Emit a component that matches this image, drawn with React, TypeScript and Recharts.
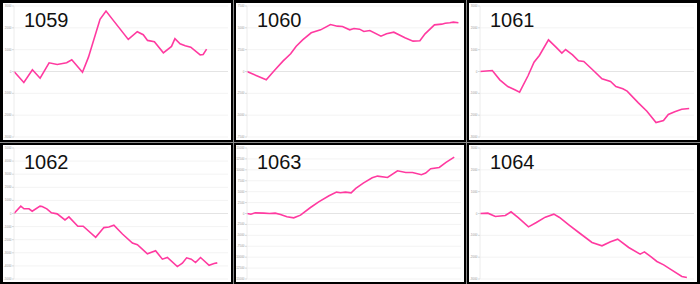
import { LineChart, Line, XAxis, YAxis, CartesianGrid, ReferenceLine } from 'recharts';

// x is position along the run, v the running total
const x1059 = [0, 2.3, 4.3, 6.1, 8.2, 10.1, 12.3, 13.5, 16.0, 17.4, 20.1, 21.5, 23.2, 26.7, 28.8, 30.2, 31.2, 32.8, 34.9, 36.8, 37.6, 38.8, 40.0, 41.3, 43.5, 44.2, 45.0];
const v1059 = [0, -505, 77, -306, 398, 321, 398, 536, -31, 658, 2388, 2771, 2342, 1469, 1821, 1684, 1424, 1362, 857, 1148, 1500, 1270, 1179, 1117, 765, 781, 1026];

const x1060 = [0, 4.5, 6.4, 8.4, 10.2, 11.5, 13.0, 15.0, 17.2, 19.5, 21.1, 22.3, 24.0, 25.0, 26.3, 27.3, 28.7, 31.3, 32.6, 34.3, 36.9, 38.8, 40.4, 41.6, 43.8, 45.5, 46.3, 47.4, 48.2, 49.4];
const v1060 = [0, -954, 115, 1183, 2023, 2901, 3626, 4427, 4771, 5382, 5191, 5153, 4771, 4924, 4847, 4580, 4695, 4046, 4313, 4504, 3855, 3473, 3511, 4313, 5344, 5420, 5534, 5573, 5649, 5573];

const x1061 = [0, 2.3, 3.7, 5.2, 6.5, 7.4, 9.0, 10.1, 11.1, 12.8, 14.2, 15.3, 16.0, 17.3, 18.4, 19.4, 21.0, 22.8, 24.4, 25.4, 26.7, 27.5, 29.6, 31.2, 32.9, 34.3, 35.2, 36.4, 37.7, 39.1];
const v1061 = [0, 46, -382, -687, -840, -947, -183, 427, 733, 1450, 1115, 840, 1008, 763, 489, 458, 92, -336, -458, -687, -794, -901, -1435, -1817, -2336, -2244, -1969, -1847, -1725, -1695];

const x1062 = [0, 1.9, 2.8, 4.2, 5.1, 7.3, 7.9, 9.2, 10.5, 12.1, 14.3, 15.4, 17.9, 19.4, 22.9, 25.2, 26.6, 28.0, 30.4, 33.2, 34.6, 37.4, 39.7, 41.6, 43.0, 45.8, 47.2, 48.4, 49.7, 50.9, 52.3, 54.7, 56.1, 57.0];
const v1062 = [0, 564, 359, 359, 179, 564, 538, 359, 51, -26, -487, -256, -974, -974, -1821, -1077, -1026, -897, -1564, -2256, -2385, -3077, -2846, -3487, -3359, -4051, -3795, -3385, -3487, -3744, -3359, -3949, -3821, -3769];

const x1063 = [0, 1.1, 2.3, 4.7, 6.3, 7.9, 9.4, 11.2, 13.1, 15.0, 17.8, 20.1, 23.0, 25.1, 26.2, 27.6, 29.2, 30.5, 32.6, 35.1, 36.6, 39.4, 42.2, 44.5, 46.4, 48.9, 50.1, 51.5, 53.9, 55.8, 58.1];
const v1063 = [0, -153, 153, 76, 0, 76, -229, -765, -994, -382, 1376, 2676, 4052, 4893, 4740, 4893, 4740, 5734, 6957, 8180, 8563, 8257, 9786, 9404, 9404, 8869, 9251, 10245, 10550, 11697, 12920];

const x1064 = [0, 2.2, 4.3, 7.1, 8.7, 10.8, 13.6, 15.8, 18.3, 20.7, 22.3, 24.9, 27.7, 31.4, 34.2, 36.6, 38.6, 41.7, 44.9, 46.1, 47.8, 49.6, 51.5, 53.8, 56.6, 58.0];
const v1064 = [0, 15, -137, -92, 76, -198, -611, -412, -168, -31, -183, -519, -870, -1328, -1481, -1298, -1176, -1557, -1863, -1756, -1969, -2198, -2351, -2595, -2885, -2931];

const yTicks3000 = [-3000, -2000, -1000, 0, 1000, 2000, 3000];
const yTicks7500 = [-7500, -5000, -2500, 0, 2500, 5000, 7500];
const yTicks5000 = [-5000, -4000, -3000, -2000, -1000, 0, 1000, 2000, 3000, 4000, 5000];
const yTicks15000 = [-15000, -12500, -10000, -7500, -5000, -2500, 0, 2500, 5000, 7500, 10000, 12500, 15000];

const xTicks40 = [0, 10, 20, 30, 40];
const xTicks50 = [0, 10, 20, 30, 40, 50];
const xTicks60 = [0, 10, 20, 30, 40, 50, 60];

const W = 228;
const H = 137;
const MARGIN = { top: 3, right: 3, bottom: 3, left: 0 };
// domains are symmetric, so zero sits halfway down the plot
const ZERO_Y = MARGIN.top + (H - MARGIN.top - MARGIN.bottom) / 2;

function ZeroTick(props: any) {
  const { x } = props;
  return <line x1={x} x2={x} y1={ZERO_Y} y2={ZERO_Y + 2} stroke="#c8c8c8" strokeWidth={1} />;
}

interface PanelProps {
  title: string;
  xs: number[];
  vs: number[];
  yTicks: number[];
  xTicks: number[];
  left: number;
  top: number;
}

function Panel({ title, xs, vs, yTicks, xTicks, left, top }: Readonly<PanelProps>) {
  const data = xs.map((x, i) => ({ x, v: vs[i] }));
  return (
    <div style={{ position: 'absolute', left, top, width: W, height: H, background: '#fff' }}>
      <LineChart width={W} height={H} data={data} margin={MARGIN}>
        <CartesianGrid vertical={false} stroke="#f3f3f3" />
        <XAxis
          type="number"
          dataKey="x"
          domain={[xTicks[0], xTicks[xTicks.length - 1]]}
          ticks={xTicks}
          height={0}
          axisLine={false}
          tickLine={false}
          tick={<ZeroTick />}
          interval={0}
        />
        <YAxis
          width={11}
          domain={[yTicks[0], yTicks[yTicks.length - 1]]}
          ticks={yTicks}
          interval={0}
          tick={{ fontSize: 3, fill: '#9a9a9a', fontFamily: 'Liberation Sans' }}
          tickSize={2}
          tickMargin={0.5}
          tickLine={{ stroke: '#d8d8d8' }}
          axisLine={{ stroke: '#ececec' }}
        />
        <ReferenceLine y={0} stroke="#e4e4e4" />
        <Line
          type="linear"
          dataKey="v"
          stroke="#ff3aa0"
          strokeWidth={1.6}
          dot={false}
          isAnimationActive={false}
        />
      </LineChart>
      <div
        style={{
          position: 'absolute',
          left: 21,
          top: 7,
          fontFamily: 'Liberation Sans',
          fontSize: 20,
          lineHeight: '20px',
          color: '#111',
        }}
      >
        {title}
      </div>
    </div>
  );
}

export default function App() {
  return (
    <div style={{ position: 'absolute', left: 0, top: 0, width: 700, height: 284, background: '#000', overflow: 'hidden' }}>
      <div style={{ position: 'absolute', left: 233, top: 0, width: 1, height: 284, background: '#8a8a8a' }} />
      <div style={{ position: 'absolute', left: 466, top: 0, width: 1, height: 284, background: '#8a8a8a' }} />
      <div style={{ position: 'absolute', left: 0, top: 142, width: 700, height: 1, background: '#8a8a8a' }} />
      <Panel title="1059" xs={x1059} vs={v1059} yTicks={yTicks3000} xTicks={xTicks50} left={3} top={3} />
      <Panel title="1060" xs={x1060} vs={v1060} yTicks={yTicks7500} xTicks={xTicks50} left={236} top={3} />
      <Panel title="1061" xs={x1061} vs={v1061} yTicks={yTicks3000} xTicks={xTicks40} left={469} top={3} />
      <Panel title="1062" xs={x1062} vs={v1062} yTicks={yTicks5000} xTicks={xTicks60} left={3} top={145} />
      <Panel title="1063" xs={x1063} vs={v1063} yTicks={yTicks15000} xTicks={xTicks60} left={236} top={145} />
      <Panel title="1064" xs={x1064} vs={v1064} yTicks={yTicks3000} xTicks={xTicks60} left={469} top={145} />
    </div>
  );
}
